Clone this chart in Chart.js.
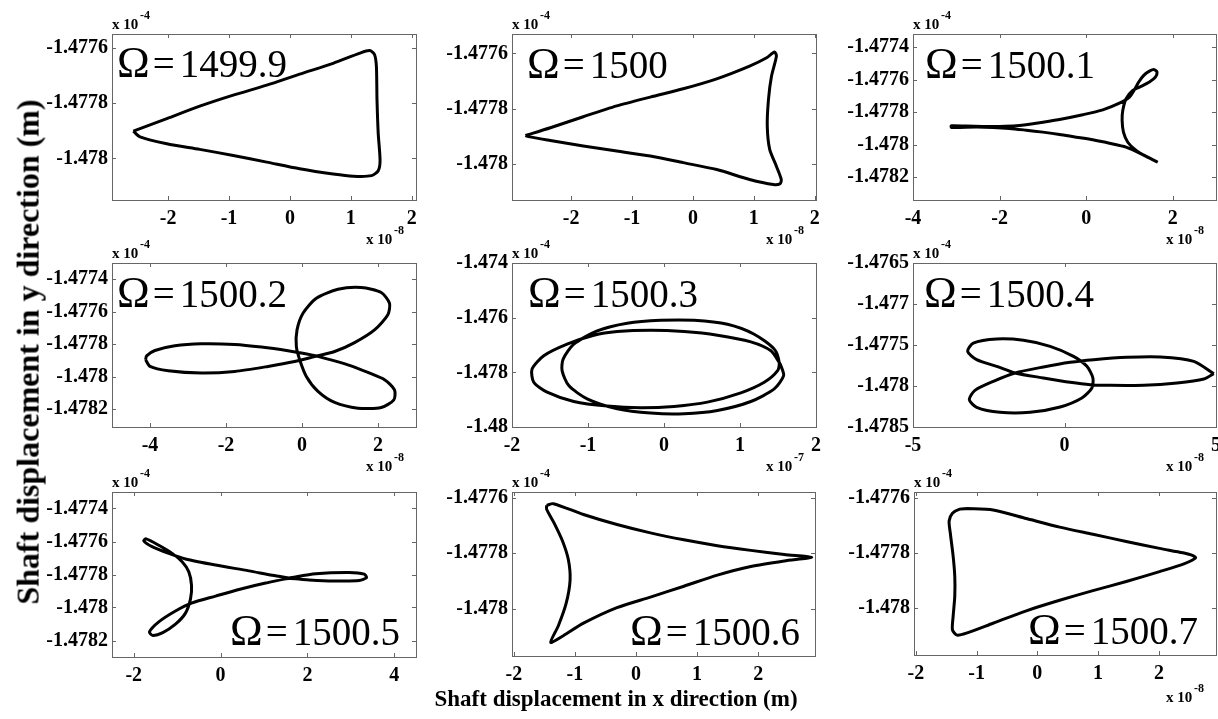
<!DOCTYPE html>
<html>
<head>
<meta charset="utf-8">
<script src="https://cdn.jsdelivr.net/npm/chart.js@4.4.1/dist/chart.umd.min.js"></script>
<style>
  body { margin: 0; background: #fff; width: 1218px; height: 719px; overflow: hidden; position: relative; font-family: "Liberation Serif", "Times New Roman", serif; }
  canvas { position: absolute; }
  .t { position: absolute; white-space: nowrap; color: #000; }
  .b { font-weight: bold; }
  .om { font-size: 44px; line-height: 0; margin-right: 3px; }
  .eq { margin-right: 5px; }
</style>
</head>
<body>
<script>
// orbit points (x in 1e-8 m, except panels 5 and 8 in 1e-7 m; y in 1e-4 m)
const p1x = [-2.57,-2.02,-1.48,-0.93,-0.38,0.16,0.71,1.15,1.31,1.39,1.42,1.43,1.45,1.48,1.45,1.34,1.04,0.71,0.16,-0.38,-0.93,-1.48,-2.02,-2.46,-2.57];
const p1y = [-1.477901,-1.477856,-1.477811,-1.477771,-1.477735,-1.477695,-1.477656,-1.477619,-1.47761,-1.477625,-1.477668,-1.477789,-1.47791,-1.478007,-1.478044,-1.478062,-1.478064,-1.478056,-1.478037,-1.478013,-1.477989,-1.477967,-1.477947,-1.477922,-1.477901];

const p2x = [-2.75,-2.34,-1.80,-1.25,-0.70,-0.16,0.39,0.93,1.21,1.34,1.37,1.29,1.24,1.22,1.26,1.37,1.45,1.43,1.32,0.93,0.39,-0.16,-0.70,-1.25,-1.80,-2.34,-2.70,-2.75];
const p2y = [-1.477897,-1.477869,-1.477829,-1.47779,-1.477758,-1.477728,-1.477692,-1.477646,-1.477616,-1.477595,-1.47761,-1.477682,-1.477766,-1.477863,-1.477947,-1.478008,-1.478056,-1.478071,-1.478074,-1.478056,-1.47802,-1.477995,-1.477971,-1.477953,-1.477935,-1.477915,-1.477901,-1.477897];

const p3x = [1.654,1.308,0.923,0.538,0.154,-0.231,-0.615,-1.0,-1.385,-1.769,-2.154,-2.538,-2.923,-3.115,-3.115,-2.769,-2.385,-2.0,-1.615,-1.154,-0.615,-0.077,0.385,0.769,1.0,1.115,1.215,1.331,1.462,1.577,1.638,1.6,1.462,1.269,1.077,0.923,0.846,0.831,0.862,0.962,1.154,1.385,1.654];
const p3y = [-1.478108,-1.478061,-1.478015,-1.477991,-1.47797,-1.477954,-1.477937,-1.477923,-1.477911,-1.4779,-1.477894,-1.477892,-1.477894,-1.477894,-1.477884,-1.477886,-1.477888,-1.477888,-1.477884,-1.477868,-1.477845,-1.477816,-1.477786,-1.477745,-1.477708,-1.477663,-1.477615,-1.477574,-1.477548,-1.477539,-1.477554,-1.477585,-1.477615,-1.477642,-1.477667,-1.477718,-1.47779,-1.477851,-1.477923,-1.477985,-1.478036,-1.478073,-1.478108];

const p4x = [-4.116,-4.0,-3.52,-2.645,-1.769,-0.893,-0.193,0.333,0.858,1.384,1.909,2.259,2.303,2.084,1.559,0.946,0.377,0.026,-0.131,-0.149,-0.061,0.114,0.42,0.858,1.471,2.084,2.417,2.434,2.172,1.734,1.208,0.683,0.245,-0.368,-1.068,-1.769,-2.645,-3.345,-3.87,-4.089,-4.116];
const p4y = [-1.477896,-1.477937,-1.477964,-1.477978,-1.477968,-1.477937,-1.477907,-1.477876,-1.477845,-1.47779,-1.477712,-1.477619,-1.477548,-1.477482,-1.477451,-1.477462,-1.477517,-1.477609,-1.477712,-1.477814,-1.477896,-1.477999,-1.478091,-1.478159,-1.478194,-1.47819,-1.478143,-1.478081,-1.478019,-1.477974,-1.477927,-1.477892,-1.477866,-1.477841,-1.477818,-1.477802,-1.477798,-1.47781,-1.477839,-1.477872,-1.477896];

const p5x = [1.516,1.407,1.143,0.703,0.264,-0.176,-0.615,-0.923,-1.275,-1.582,-1.736,-1.714,-1.538,-1.187,-0.747,-0.308,0.132,0.571,1.011,1.319,1.495,1.516,1.451,1.187,0.835,0.396,-0.044,-0.484,-0.879,-1.187,-1.327,-1.341,-1.253,-1.011,-0.615,-0.176,0.264,0.703,1.143,1.451,1.574,1.538,1.516];
const p5y = [-1.477636,-1.477212,-1.476885,-1.476642,-1.476509,-1.476461,-1.476509,-1.476642,-1.47697,-1.477394,-1.477879,-1.478364,-1.478727,-1.479067,-1.479236,-1.479297,-1.479248,-1.479091,-1.478751,-1.478364,-1.477939,-1.477636,-1.477151,-1.476606,-1.476242,-1.476097,-1.476097,-1.476206,-1.476485,-1.47697,-1.477515,-1.477939,-1.478485,-1.47897,-1.479333,-1.479491,-1.479515,-1.479394,-1.479067,-1.478606,-1.478121,-1.477758,-1.477636];

const p6x = [4.928,4.267,3.164,2.062,0.959,0.187,-0.695,-1.632,-2.348,-2.955,-3.142,-2.9,-2.128,-1.136,-0.143,0.573,0.904,0.937,0.739,0.298,-0.474,-1.356,-2.238,-3.01,-3.197,-2.9,-2.238,-1.632,-0.695,0.187,0.849,1.51,2.613,3.716,4.598,4.928];
const p6y = [-1.47785,-1.477699,-1.477646,-1.47765,-1.477679,-1.477711,-1.477768,-1.477841,-1.477943,-1.478053,-1.478167,-1.47826,-1.478321,-1.478321,-1.478256,-1.478146,-1.478024,-1.477902,-1.47776,-1.477638,-1.477516,-1.477443,-1.477427,-1.477476,-1.477577,-1.477679,-1.47776,-1.477841,-1.477902,-1.477955,-1.477984,-1.477992,-1.477992,-1.477963,-1.477915,-1.47785];

const p7x = [1.577,2.192,2.962,3.308,3.362,3.192,2.577,2.038,1.577,1.038,0.423,-0.115,-0.654,-1.038,-1.423,-1.638,-1.562,-1.331,-1.038,-0.808,-0.692,-0.669,-0.731,-0.885,-1.115,-1.423,-1.715,-1.769,-1.577,-1.192,-0.808,-0.115,0.654,1.192,1.577];
const p7y = [-1.477821,-1.477796,-1.477788,-1.477798,-1.477819,-1.477837,-1.477839,-1.477833,-1.477825,-1.477852,-1.477891,-1.477931,-1.477972,-1.478021,-1.478087,-1.478148,-1.478169,-1.478152,-1.478101,-1.478034,-1.477948,-1.477866,-1.477784,-1.477723,-1.477672,-1.477623,-1.477584,-1.477596,-1.477631,-1.477672,-1.477706,-1.477743,-1.477778,-1.477805,-1.477821];

const p8x = [-1.463,-1.353,-0.86,-0.312,0.236,0.784,1.332,1.879,2.427,2.877,2.427,1.879,1.332,0.784,0.236,-0.312,-0.86,-1.189,-1.397,-1.271,-1.145,-1.079,-1.107,-1.2,-1.342,-1.463,-1.463];
const p8y = [-1.477628,-1.477622,-1.477661,-1.477697,-1.477727,-1.477752,-1.477773,-1.47779,-1.477805,-1.477815,-1.477828,-1.477848,-1.477879,-1.477919,-1.477958,-1.477996,-1.478052,-1.478097,-1.478121,-1.478061,-1.477982,-1.477897,-1.477824,-1.477758,-1.477691,-1.477642,-1.477628];

const p9x = [-1.167,-0.729,-0.181,0.367,0.915,1.463,2.011,2.395,2.559,2.603,2.422,2.011,1.463,0.915,0.367,-0.181,-0.729,-1.167,-1.321,-1.397,-1.386,-1.359,-1.359,-1.386,-1.43,-1.452,-1.397,-1.277,-1.167];
const p9y = [-1.47764,-1.477645,-1.477676,-1.477707,-1.477733,-1.477759,-1.477784,-1.4778,-1.47781,-1.477819,-1.477839,-1.477868,-1.477904,-1.477937,-1.477972,-1.47801,-1.478055,-1.478091,-1.478098,-1.478079,-1.47803,-1.477958,-1.477885,-1.477812,-1.477733,-1.477685,-1.477657,-1.477642,-1.47764];

// speeds
const omegas = ['1499.9', '1500', '1500.1', '1500.2', '1500.3', '1500.4', '1500.5', '1500.6', '1500.7'];

// axis limits and tick labels
const xRanges = [[-2.92, 2.07], [-2.97, 2.02], [-4, 3], [-5, 3], [-2, 2], [-5, 5], [-2.5, 4.5], [-2.03, 2.93], [-2.03, 2.94]];
const yRanges = [[-1.47815, -1.47755], [-1.47813, -1.47753], [-1.47834, -1.47732], [-1.47831, -1.4773], [-1.48, -1.474], [-1.4785, -1.4765], [-1.4783, -1.4773], [-1.47817, -1.47758], [-1.47817, -1.47758]];
const xTicks = [[-2, -1, 0, 1, 2], [-2, -1, 0, 1, 2], [-4, -2, 0, 2], [-4, -2, 0, 2], [-2, -1, 0, 1, 2], [-5, 0, 5], [-2, 0, 2, 4], [-2, -1, 0, 1, 2], [-2, -1, 0, 1, 2]];
const yTicks = [
    [-1.4776, -1.4778, -1.478],
    [-1.4776, -1.4778, -1.478],
    [-1.4774, -1.4776, -1.4778, -1.478, -1.4782],
    [-1.4774, -1.4776, -1.4778, -1.478, -1.4782],
    [-1.474, -1.476, -1.478, -1.48],
    [-1.4765, -1.477, -1.4775, -1.478, -1.4785],
    [-1.4774, -1.4776, -1.4778, -1.478, -1.4782],
    [-1.4776, -1.4778, -1.478],
    [-1.4776, -1.4778, -1.478]
];
const xExponents = ['-8', '-8', '-8', '-8', '-7', '-8', null, null, '-8'];

const seriesX = [p1x, p2x, p3x, p4x, p5x, p6x, p7x, p8x, p9x];
const seriesY = [p1y, p2y, p3y, p4y, p5y, p6y, p7y, p8y, p9y];

// plot boxes on the page: left, top, right, bottom
const boxes = [
    [112, 34, 416, 200], [512, 34, 816, 200], [913, 34, 1216, 200],
    [112, 263, 416, 427], [512, 263, 816, 427], [913, 263, 1216, 427],
    [112, 492, 416, 657], [512, 492, 815, 656], [914, 492, 1216, 655]
];
const omegaPos = [[117, 77], [527, 78], [925, 78], [117, 307], [528, 307], [924, 307], [230, 645], [630, 645], [1028, 644]];

const Y_AXIS_W = 110, X_AXIS_H = 34, PAD_TOP = 12, PAD_RIGHT = 12;

Chart.defaults.font.family = '"Liberation Serif", "Times New Roman", serif';

// text placed by its baseline
function addText(txt, x, baseline, size, bold) {
    const d = document.createElement('div');
    d.className = 't' + (bold ? ' b' : '');
    d.textContent = txt;
    d.style.fontSize = size + 'px';
    d.style.lineHeight = size + 'px';
    d.style.left = x + 'px';
    d.style.top = (baseline - 0.8375 * size) + 'px';
    document.body.appendChild(d);
    return d;
}

function addMultiplier(x, baseline, exp) {
    addText('x 10', x, baseline, 15, true);
    addText(exp, x + 28, baseline - 11, 12, true);
}

function addOmega(value, x, baseline) {
    const d = addText('', x, baseline, 39, false);
    d.innerHTML = '<span class="om">\u03A9</span><span class="eq">=</span>' + value;
}

// box + inward ticks on all four sides, MATLAB style
const boxPlugin = {
    id: 'box',
    afterDraw(chart) {
        const { ctx, chartArea: a, scales } = chart;
        ctx.save();
        ctx.strokeStyle = '#666';
        ctx.lineWidth = 1;
        ctx.beginPath();
        scales.x.ticks.forEach(t => {
            const px = Math.round(scales.x.getPixelForValue(t.value)) + 0.5;
            ctx.moveTo(px, a.bottom); ctx.lineTo(px, a.bottom - 4);
            ctx.moveTo(px, a.top); ctx.lineTo(px, a.top + 4);
        });
        scales.y.ticks.forEach(t => {
            const py = Math.round(scales.y.getPixelForValue(t.value)) + 0.5;
            ctx.moveTo(a.left, py); ctx.lineTo(a.left + 4, py);
            ctx.moveTo(a.right, py); ctx.lineTo(a.right - 4, py);
        });
        ctx.stroke();
        ctx.strokeRect(Math.round(a.left) + 0.5, Math.round(a.top) + 0.5, Math.round(a.right - a.left), Math.round(a.bottom - a.top));
        ctx.restore();
    }
};

function makePanel(i) {
    const [L, T, R, B] = boxes[i];
    const cv = document.createElement('canvas');
    cv.width = (R - L) + Y_AXIS_W + PAD_RIGHT;
    cv.height = (B - T) + PAD_TOP + X_AXIS_H;
    cv.style.left = (L - Y_AXIS_W) + 'px';
    cv.style.top = (T - PAD_TOP) + 'px';
    document.body.appendChild(cv);

    const xs = seriesX[i], ys = seriesY[i];
    const pts = xs.map((x, k) => ({ x: x, y: ys[k] }));

    new Chart(cv.getContext('2d'), {
        type: 'scatter',
        data: { datasets: [{ data: pts, showLine: true, borderColor: '#000', borderWidth: 3, pointRadius: 0, tension: 0.25, fill: false }] },
        options: {
            responsive: false, animation: false, devicePixelRatio: 1,
            layout: { padding: { top: PAD_TOP, right: PAD_RIGHT, left: 0, bottom: 0 } },
            plugins: { legend: { display: false }, tooltip: { enabled: false } },
            scales: {
                x: {
                    type: 'linear', min: xRanges[i][0], max: xRanges[i][1],
                    grid: { display: false, drawTicks: false }, border: { display: false },
                    ticks: { color: '#000', font: { size: 20, weight: 'bold' }, padding: 7, autoSkip: false, maxRotation: 0, callback: v => String(v) },
                    afterBuildTicks: s => { s.ticks = xTicks[i].map(v => ({ value: v })); },
                    afterFit: s => { s.height = X_AXIS_H; s.paddingLeft = 0; s.paddingRight = 0; }
                },
                y: {
                    type: 'linear', min: yRanges[i][0], max: yRanges[i][1],
                    grid: { display: false, drawTicks: false }, border: { display: false },
                    ticks: { color: '#000', font: { size: 20, weight: 'bold' }, padding: 4, autoSkip: false, callback: v => String(v) },
                    afterBuildTicks: s => { s.ticks = yTicks[i].map(v => ({ value: v })); },
                    afterFit: s => { s.width = Y_AXIS_W; s.paddingTop = 0; s.paddingBottom = 0; }
                }
            }
        },
        plugins: [boxPlugin]
    });

    // y multiplier above the box, x multiplier below right
    addMultiplier(L, T - 4, '-4');
    if (xExponents[i]) addMultiplier(R - 50, B + (i === 8 ? 48 : 45), xExponents[i]);

    addOmega(omegas[i], omegaPos[i][0], omegaPos[i][1]);
}

for (let i = 0; i < 9; i++) makePanel(i);

// shared axis titles
const xt = addText('Shaft displacement in x direction (m)', 0, 706, 23, true);
xt.style.left = (616 - xt.offsetWidth / 2) + 'px';

const yt = document.createElement('div');
yt.className = 't b';
yt.textContent = 'Shaft displacement in y direction (m)';
yt.style.fontSize = '32px';
yt.style.lineHeight = '32px';
document.body.appendChild(yt);
yt.style.left = (27 - yt.offsetWidth / 2) + 'px';
yt.style.top = (352 - yt.offsetHeight / 2) + 'px';
yt.style.transform = 'rotate(-90deg)';
</script>
</body>
</html>
